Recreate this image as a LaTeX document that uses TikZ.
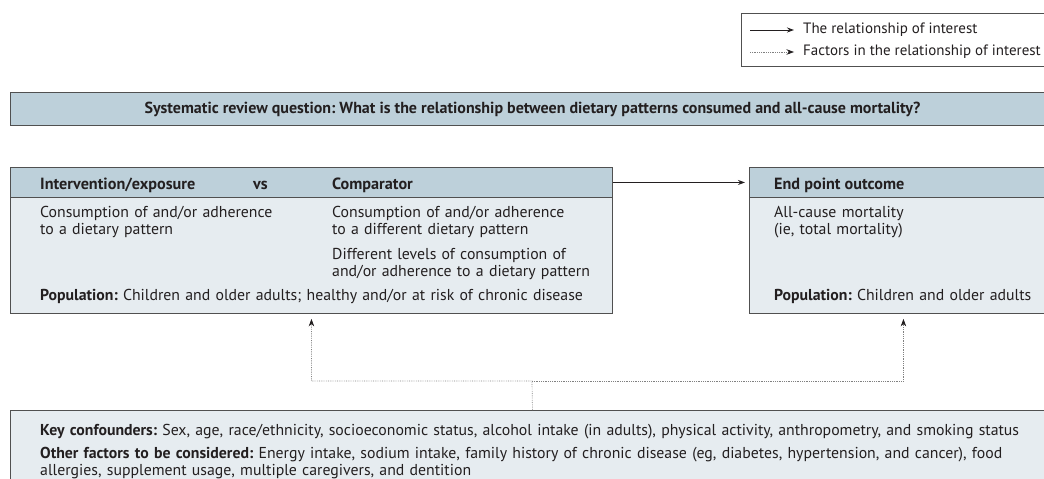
\documentclass[tikz,border=0pt]{standalone}
\usepackage{fontspec}
\setmainfont{PT Sans}
\frenchspacing
\usetikzlibrary{positioning,arrows.meta,calc}
\definecolor{hdrfill}{HTML}{BDD0DA}
\definecolor{bodyfill}{HTML}{E6ECF0}
\definecolor{edge}{HTML}{505050}
\definecolor{ink}{HTML}{231F20}

\begin{document}
\begin{tikzpicture}[x=1pt, y=-1pt,
        hdr/.style={rectangle, draw=edge, fill=hdrfill, line width=0.9pt, anchor=north west, inner sep=0pt},
        body/.style={rectangle, draw=edge, fill=bodyfill, line width=0.9pt, anchor=north west, inner sep=0pt},
        txt/.style={anchor=base west, inner sep=0pt, text width=560pt, align=left, text=ink, font=\fontsize{15.8}{17.8}\selectfont},
        head/.style={anchor=base west, inner sep=0pt, text=ink, font=\fontsize{16.2}{18}\selectfont\bfseries},
        legtxt/.style={anchor=west, inner sep=0pt, text=ink, font=\fontsize{15}{17}\selectfont},
        arrow/.style={-{Stealth[length=7pt, width=5pt]}, line width=0.9pt, draw=ink},
        factor/.style={-{Stealth[length=7.5pt, width=5.5pt, color=ink]}, line width=0.7pt, draw=gray, dash pattern=on 0.7pt off 1.1pt}
    ]
    \useasboundingbox (0,0) rectangle (1044,479);

    % Legend
    \node[draw=edge, fill=white, line width=0.9pt, anchor=north west, inner sep=0pt, minimum width=320, minimum height=53] (legend) at (741,13) {};
    \node[legtxt] (leg1) at (803,30) {The relationship of interest};
    \node[legtxt] (leg2) at (803,52) {Factors in the relationship of interest};
    \coordinate (l1) at (750,30);
    \coordinate (l2) at (750,52);
    \draw[arrow] (l1) -- (leg1.west) [shorten >=9pt];
    \draw[factor] (l2) -- (leg2.west) [shorten >=9pt];

    % Review question
    \node[hdr, minimum width=1044, minimum height=33, text=ink, font=\fontsize{16}{18}\selectfont\bfseries] (question) at (10,92) {Systematic review question: What is the relationship between dietary patterns consumed and all-cause mortality?};

    % Intervention vs comparator
    \node[body, minimum width=602, minimum height=146] (ibody) at (10,167) {};
    \node[hdr, minimum width=602, minimum height=30] (ihead) at (10,167) {};
    \node[head] (interv) at (40,189) {Intervention/exposure};
    \node[head] (vs) at (253,189) {vs};
    \node[head] (comp) at (332,189) {Comparator};
    \node[txt, text width=270pt] (interv1) at (40,217) {Consumption of and/or adherence\\to a dietary pattern};
    \node[txt, text width=275pt] (comp1) at (332,217) {Consumption of and/or adherence\\to a different dietary pattern};
    \node[txt, text width=275pt] (comp2) at (332,259) {Different levels of consumption of\\and/or adherence to a dietary pattern};
    \node[txt] (ipop) at (40,300) {\textbf{Population:} Children and older adults; healthy and/or at risk of chronic disease};

    % End point outcome
    \node[body, minimum width=308, minimum height=146] (obody) at (749,167) {};
    \node[hdr, minimum width=308, minimum height=30] (ohead) at (749,167) {};
    \node[head] (outcome) at (774,189) {End point outcome};
    \node[txt, text width=270pt] (out1) at (774,217) {All-cause mortality\\(ie, total mortality)};
    \node[txt, text width=270pt] (opop) at (774,300) {\textbf{Population:} Children and older adults};

    \draw[arrow] (ihead.east) -- (ohead.west) [shorten >=4pt];

    % Confounders
    \node[body, minimum width=1044, minimum height=80] (conf) at (10,410) {};
    \node[txt, text width=1000pt] (key) at (40,435) {\textbf{Key confounders:} Sex, age, race/ethnicity, socioeconomic status, alcohol intake (in adults), physical activity, anthropometry, and smoking status};
    \node[txt, text width=1000pt] (other) at (40,458) {\textbf{Other factors to be considered:} Energy intake, sodium intake, family history of chronic disease (eg, diabetes, hypertension, and cancer), food\\allergies, supplement usage, multiple caregivers, and dentition};

    \coordinate (split) at (532,381);
    \draw[factor] (conf.north) -- (split) -| (ibody.south) [shorten >=5pt];
    \draw[factor] (split) -| (obody.south) [shorten >=5pt];

\end{tikzpicture}
\end{document}
